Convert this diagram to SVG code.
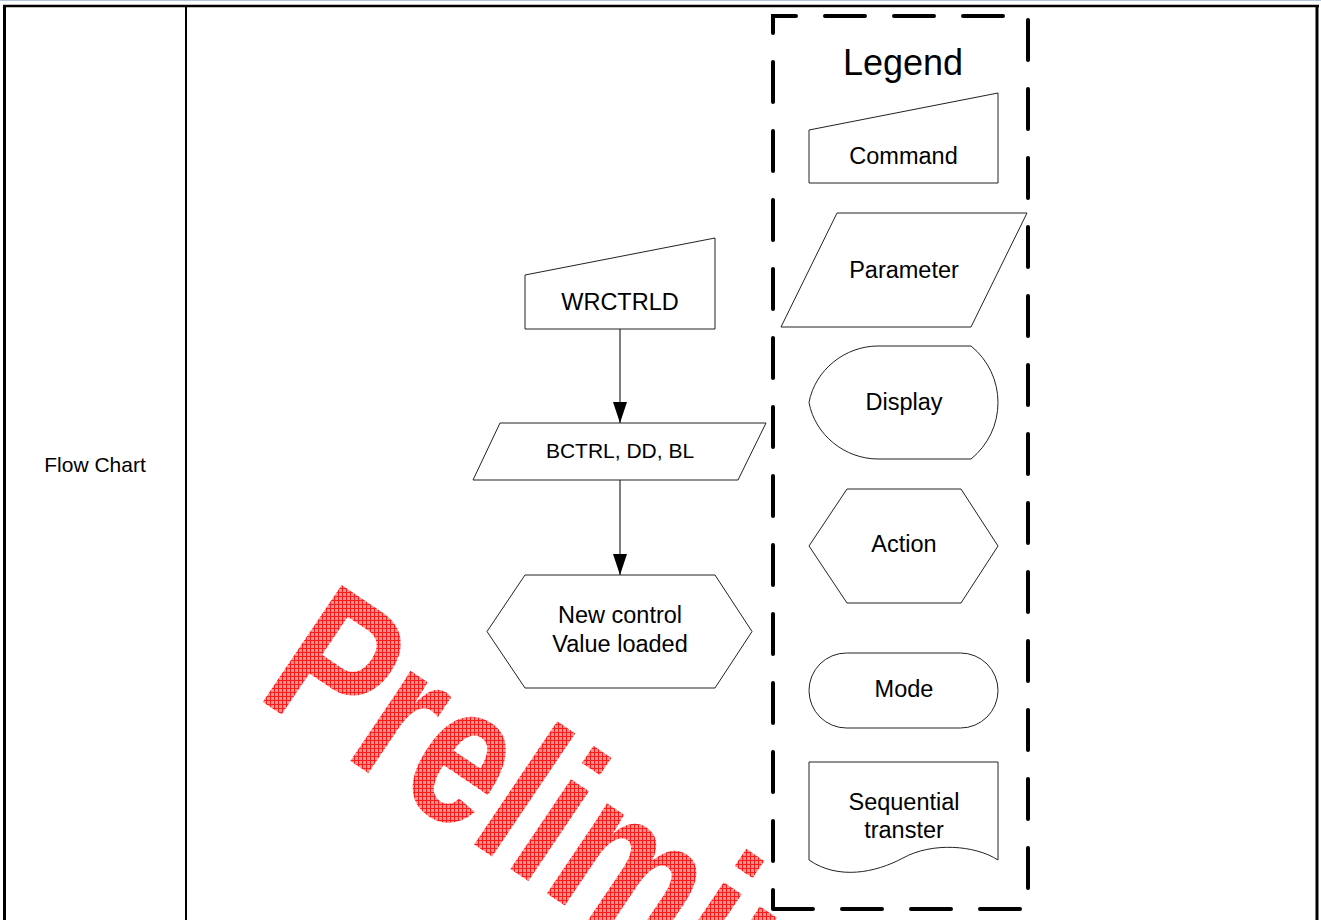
<svg xmlns="http://www.w3.org/2000/svg" width="1321" height="920" viewBox="0 0 1321 920">
  <style>
    .shape { fill: #ffffff; stroke: #222222; stroke-width: 1; }
    .lbl { font-family: "Liberation Sans", Arial, sans-serif; fill: #000000; text-anchor: middle; }
    .conn { stroke: #000000; stroke-width: 1; fill: none; }
    .tbl { stroke: #000000; fill: none; }
  </style>
  <defs>
    <pattern id="hatch" width="4" height="4" patternUnits="userSpaceOnUse" patternTransform="scale(1.2987,1) rotate(-34)">
      <rect width="4" height="4" fill="#ff9090"/>
      <path d="M0,0.5 H4 M0.5,0 V4" stroke="#ff1a1a" stroke-width="1"/>
    </pattern>
    <marker id="arrow" markerUnits="userSpaceOnUse" markerWidth="22" markerHeight="14" refX="21" refY="7" orient="auto">
      <path d="M0,0 L21,7 L0,14 Z" fill="#000000"/>
    </marker>
  </defs>
  <rect width="1321" height="920" fill="#ffffff"/>

  <!-- table frame -->
  <g id="table">
    <line x1="0" y1="0.5" x2="1321" y2="0.5" stroke="#b4c6dc" stroke-width="1"/>
    <line class="tbl" x1="3" y1="6" x2="1319" y2="6" stroke-width="2.5"/>
    <line class="tbl" x1="4.5" y1="5" x2="4.5" y2="920" stroke-width="3"/>
    <line class="tbl" x1="186" y1="6" x2="186" y2="920" stroke-width="2"/>
    <line class="tbl" x1="1317" y1="5" x2="1317" y2="920" stroke-width="3"/>
    <text class="lbl" x="95" y="472" font-size="21">Flow Chart</text>
  </g>

  <!-- watermark -->
  <text id="watermark" transform="translate(254,696) rotate(34) scale(0.77,1)" font-family="'Liberation Sans', Arial, sans-serif" font-weight="bold" font-size="205" fill="url(#hatch)">Preliminary</text>

  <!-- legend -->
  <g id="legend">
    <path d="M773,909 H1028 V16 H773 V909" fill="#ffffff" stroke="#000000" stroke-width="4" stroke-dasharray="40 29" stroke-linecap="round"/>
    <text class="lbl" x="903" y="75" font-size="36">Legend</text>
  </g>
  <g id="legend-command">
    <path class="shape" d="M809,130 L998,93 V183 H809 Z"/>
    <text class="lbl" x="903.5" y="164" font-size="23.5">Command</text>
  </g>
  <g id="legend-parameter">
    <path class="shape" d="M837,213 H1027 L971,327 H781 Z"/>
    <text class="lbl" x="904" y="278" font-size="23.5">Parameter</text>
  </g>
  <g id="legend-display">
    <path class="shape" d="M878,346 H971 A72.6,72.6 0 0 1 971,459 H878 C845,459 815,435 809,402.5 C815,370 845,346 878,346 Z"/>
    <text class="lbl" x="904" y="410" font-size="23.5">Display</text>
  </g>
  <g id="legend-action">
    <path class="shape" d="M809,546 L847,489 H961 L998,546 L961,603 H847 Z"/>
    <text class="lbl" x="904" y="552" font-size="23.5">Action</text>
  </g>
  <g id="legend-mode">
    <rect class="shape" x="809" y="653" width="189" height="75" rx="37.5" ry="37.5"/>
    <text class="lbl" x="904" y="697" font-size="23.5">Mode</text>
  </g>
  <g id="legend-sequential">
    <path class="shape" d="M809,762 H998 V860 C975,845 932,842 903,858 C875,873 838,880 809,860 Z"/>
    <text class="lbl" x="904" y="810" font-size="23.5">Sequential</text>
    <text class="lbl" x="904" y="838" font-size="23.5">transter</text>
  </g>

  <!-- flow -->
  <g id="connectors">
    <line class="conn" x1="620" y1="329" x2="620" y2="423" marker-end="url(#arrow)"/>
    <line class="conn" x1="620" y1="480" x2="620" y2="575" marker-end="url(#arrow)"/>
  </g>
  <g id="node-wrctrld">
    <path class="shape" d="M525,275 L715,238 V329 H525 Z"/>
    <text class="lbl" x="620" y="310" font-size="23.5">WRCTRLD</text>
  </g>
  <g id="node-params">
    <path class="shape" d="M500,423 H766 L738,480 H473 Z"/>
    <text class="lbl" x="620" y="458" font-size="21">BCTRL, DD, BL</text>
  </g>
  <g id="node-action">
    <path class="shape" d="M487,631.5 L525,575 H715 L752,631.5 L715,688 H525 Z"/>
    <text class="lbl" x="620" y="623" font-size="23.5">New control</text>
    <text class="lbl" x="620" y="652" font-size="23.5">Value loaded</text>
  </g>
</svg>
